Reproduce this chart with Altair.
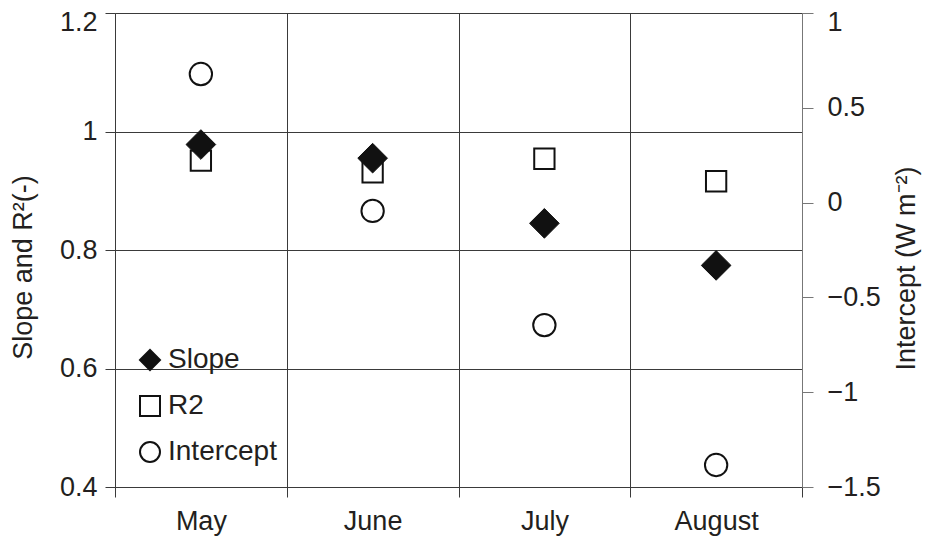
import altair as alt
import pandas as pd

# ---- data ----
months = ["May", "June", "July", "August"]
slope = [0.978, 0.955, 0.845, 0.774]
r2 = [0.951, 0.931, 0.954, 0.916]
intercept = [0.678, -0.044, -0.646, -1.384]
series_names = ["Slope", "R2", "Intercept"]
left_ticks = [0.4, 0.6, 0.8, 1.0, 1.2]
right_ticks = [-1.5, -1.0, -0.5, 0.0, 0.5, 1.0]

df_slope = pd.DataFrame({"month": months, "value": slope, "series": "Slope"})
df_r2 = pd.DataFrame({"month": months, "value": r2, "series": "R2"})
df_int = pd.DataFrame({"month": months, "value": intercept, "series": "Intercept"})

FONT = "Liberation Sans"
INK = "#231f20"
GRID = "#3a3a3a"
FS = 27

x_enc = alt.X(
    "month:N",
    sort=months,
    scale=alt.Scale(domain=months, paddingInner=0, paddingOuter=0),
    axis=alt.Axis(
        title=None, labelAngle=0, tickBand="extent", grid=True,
        gridColor=GRID, gridOpacity=1, tickSize=10, tickColor=GRID,
        domainColor=GRID, labelFontSize=FS, labelPadding=11,
        labelColor=INK, labelFont=FONT,
    ),
)

legend = alt.Legend(
    title=None, orient="none", legendX=21, legendY=333, padding=0,
    symbolSize=400, symbolStrokeColor="#111111", symbolStrokeWidth=2,
    labelFontSize=28, labelFont=FONT, labelColor=INK, labelOffset=4,
    rowPadding=18, symbolOpacity=1,
)
shape_enc = alt.Shape(
    "series:N",
    scale=alt.Scale(domain=series_names, range=["diamond", "square", "circle"]),
    legend=legend,
)
fill_enc = alt.Fill(
    "series:N",
    scale=alt.Scale(domain=series_names, range=["#111111", "white", "white"]),
    legend=legend,
)
stroke_enc = alt.Stroke(
    "series:N",
    scale=alt.Scale(domain=series_names, range=["#111111", "#111111", "#111111"]),
    legend=legend,
)

# nudge the topmost labels down a little so they stay inside the page
top_left_offset = {"condition": {"test": "datum.value >= 1.19", "value": 9}, "value": 0}
top_right_offset = {"condition": {"test": "datum.value >= 0.99", "value": 9}, "value": 0}

y_left = alt.Y(
    "value:Q",
    scale=alt.Scale(domain=[0.4, 1.2], nice=False, zero=False),
    axis=alt.Axis(
        values=left_ticks, format="~g", grid=True, gridColor=GRID,
        gridOpacity=1, tickSize=10, tickColor=GRID, domainColor=GRID,
        labelFontSize=FS, labelFont=FONT, labelColor=INK, labelPadding=8,
        labelOffset=top_left_offset,
        title="Slope and R²(-)", titleFontSize=FS, titleFont=FONT,
        titleFontWeight="normal", titleColor=INK, titleAngle=270,
        titleBaseline="middle", titleAlign="center", titleX=-92, titleY=254,
    ),
)

y_right = alt.Y(
    "value:Q",
    scale=alt.Scale(domain=[-1.5, 1.0], nice=False, zero=False),
    axis=alt.Axis(
        orient="right", values=right_ticks, format="~g", grid=False,
        tickSize=11, tickColor="#777777", domainColor="#777777",
        labelFontSize=FS, labelFont=FONT, labelColor=INK, labelPadding=14,
        labelOffset=top_right_offset,
        title="Intercept (W m⁻²)", titleFontSize=FS, titleFont=FONT,
        titleFontWeight="normal", titleColor=INK, titleAngle=270,
        titleBaseline="middle", titleAlign="center", titleX=104, titleY=255,
    ),
)

r2_layer = alt.Chart(df_r2).mark_point(
    size=412, strokeWidth=2, opacity=1
).encode(x=x_enc, y=y_left, shape=shape_enc, fill=fill_enc, stroke=stroke_enc)

slope_layer = alt.Chart(df_slope).mark_point(
    size=880, strokeWidth=1, opacity=1
).encode(x=x_enc, y=y_left, shape=shape_enc, fill=fill_enc, stroke=stroke_enc)

int_layer = alt.Chart(df_int).mark_point(
    size=500, strokeWidth=2, opacity=1
).encode(x=x_enc, y=y_right, shape=shape_enc, fill=fill_enc, stroke=stroke_enc)

left = alt.layer(r2_layer, slope_layer)

chart = (
    alt.layer(left, int_layer)
    .resolve_scale(y="independent")
    .properties(
        width=687, height=474,
        padding={"left": 107, "top": 5, "right": 120, "bottom": 52},
        autosize=alt.AutoSizeParams(type="none"),
        background="white",
    )
    .configure_view(strokeWidth=0)
)

chart.save("out.html", embed_options={"renderer": "svg", "actions": False})
